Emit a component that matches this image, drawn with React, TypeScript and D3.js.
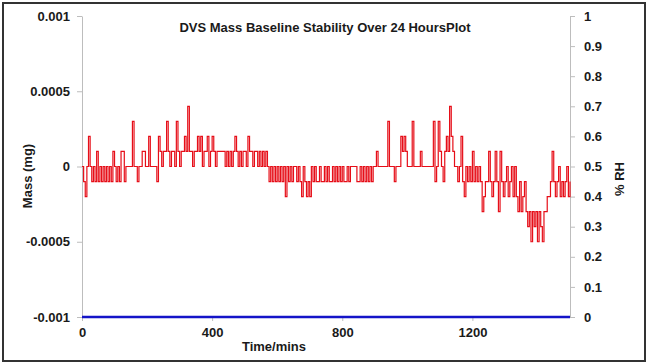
import React, { useRef, useEffect } from "react";
import * as d3 from "d3";

// Mass change, in units of 0.0001 mg, one reading every 5 minutes
const mass0to295 = [
  0, -1, -2, 0, 2, 0, -1, 0, -1, 1, -1, 0, -1, 0, -1, 0, -1, 0, -1, 1,
  0, -1, 0, -1, 1, 1, -1, 0, 0, 0, 0, 3, 0, 0, -1, 0, 0, 1, 1, 0,
  0, 2, 0, 0, 0, 0, -1, 2, 1, 0, 1, 1, 3, 1, 0, 1, 1, 0, 3, 1,
];
const mass300to595 = [
  0, 1, 1, 2, 1, 4, 1, 1, 0, 1, 1, 2, 1, 2, 0, 1, 1, 2, 0, 1,
  2, 1, 0, 1, 1, 1, 1, 1, 0, 1, 0, 1, 0, 1, 2, 1, 0, 1, 0, 1,
  1, 0, 2, 1, 1, 0, 1, 1, 0, 1, 0, 1, 0, 1, 0, -1, 0, -1, 0, -1,
];
const mass600to895 = [
  0, -1, 0, -1, 0, -2, 0, -1, 0, -1, 0, 0, -1, 0, -1, -2, 0, -1, -2, -1,
  -2, 0, -1, 0, -1, -1, 0, -1, -1, 0, -1, 0, -1, -1, 0, -1, 0, -1, 0, -1,
  0, -1, -1, 0, -1, 0, 0, 0, 0, -1, -1, 0, -1, 0, -1, 0, -1, 0, -1, 0,
];
const mass900to1195 = [
  0, 1, 0, 0, 0, 0, 0, 0, 3, 0, 0, 0, -1, 0, 0, 0, 2, 1, 2, 1,
  0, 0, 0, 3, 0, 0, 0, 0, 1, 0, 0, 0, 0, 0, 0, 0, 3, -1, 0, 3,
  1, 0, -1, 1, 2, 1, 4, 2, 1, 0, 0, -1, 0, 2, -1, -2, 0, -1, 0, -1,
];
const mass1200to1500 = [
  1, -1, 0, -1, 0, -1, -3, -2, -1, -1, 1, -1, -2, -1, 1, -1, -3, 1, -1, -2,
  -1, 0, -2, -1, 0, -2, 0, -2, -3, -1, -3, -2, -1, -3, -4, -3, -5, -3, -4, -3,
  -5, -3, -4, -5, -3, -3, -2, -2, -1, 1, -1, -2, -1, 0, -2, -1, -2, -1, 0, -2, -1,
];

// %RH stays at zero for the whole run
const rhTimes = [0, 1500];
const rhValues = [0, 0];

const massTicks = [0.001, 0.0005, 0, -0.0005, -0.001];
const massTickLabels = ["0.001", "0.0005", "0", "-0.0005", "-0.001"];
const rhTicks = [0, 0.1, 0.2, 0.3, 0.4, 0.5, 0.6, 0.7, 0.8, 0.9, 1];
const timeTicks = [0, 400, 800, 1200];

const FONT = "Arial, 'Liberation Sans', sans-serif";
const AXIS_GREY = "#bdbdbd";

function BaselineChart() {
  const chartRef = useRef(null);

  useEffect(() => {
    const svg = d3.select(chartRef.current);
    svg.selectAll("*").remove();

    const left = 82, right = 570, top = 16, bottom = 317;

    const x = d3.scaleLinear().domain([0, 1500]).range([left, right]);
    const y = d3.scaleLinear().domain([-0.001, 0.001]).range([bottom, top]);
    const yRH = d3.scaleLinear().domain([0, 1]).range([bottom, top]);

    // outer frame
    svg.append("rect")
      .attr("x", 3).attr("y", 3).attr("width", 642).attr("height", 358)
      .attr("fill", "white").attr("stroke", "#333").attr("stroke-width", 2);

    const styleAxis = (g) => {
      g.selectAll("path").attr("stroke", AXIS_GREY);
      g.selectAll("line").attr("stroke", AXIS_GREY);
      g.selectAll("text")
        .attr("fill", "#1a1a1a")
        .style("font-family", FONT)
        .style("font-size", "13px")
        .style("font-weight", "bold");
    };

    svg.append("g")
      .attr("transform", `translate(${left},0)`)
      .call(d3.axisLeft(y).tickValues(massTicks)
        .tickFormat((d, i) => massTickLabels[i])
        .tickSize(5).tickSizeOuter(0).tickPadding(7))
      .call(styleAxis);

    svg.append("g")
      .attr("transform", `translate(${right},0)`)
      .call(d3.axisRight(yRH).tickValues(rhTicks)
        .tickFormat(d3.format(""))
        .tickSize(5).tickSizeOuter(0).tickPadding(9))
      .call(styleAxis);

    svg.append("g")
      .attr("transform", `translate(0,${bottom})`)
      .call(d3.axisBottom(x).tickValues(timeTicks)
        .tickFormat(d3.format(""))
        .tickSize(4).tickSizeOuter(0).tickPadding(7))
      .call(styleAxis);

    // mass readings, 5-minute spacing
    const mass = [...mass0to295, ...mass300to595, ...mass600to895, ...mass900to1195, ...mass1200to1500];
    const times = d3.range(0, 1501, 5);
    const massData = times.map((t, i) => ({ t, v: mass[i] * 0.0001 }));

    const massLine = d3.line()
      .x((d) => x(d.t))
      .y((d) => y(d.v))
      .curve(d3.curveStepAfter);

    svg.append("path")
      .datum(massData)
      .attr("d", massLine)
      .attr("fill", "none")
      .attr("stroke", "#e60e18")
      .attr("stroke-width", 1.2);

    const rhLine = d3.line()
      .x((d, i) => x(rhTimes[i]))
      .y((d) => yRH(d));

    svg.append("path")
      .datum(rhValues)
      .attr("d", rhLine)
      .attr("fill", "none")
      .attr("stroke", "#1414c8")
      .attr("stroke-width", 2.5);

    const label = (txt, px, py, rot, size) =>
      svg.append("text")
        .attr("transform", `translate(${px},${py}) rotate(${rot})`)
        .attr("text-anchor", "middle")
        .style("font-family", FONT)
        .style("font-size", size)
        .style("font-weight", "bold")
        .attr("fill", "#1a1a1a")
        .text(txt);

    label("DVS Mass Baseline Stability Over 24 HoursPlot", 325, 32, 0, "13px");
    label("Time/mins", 274, 351, 0, "13px");
    label("Mass (mg)", 32, 176, -90, "13px");
    label("% RH", 624, 179, -90, "13px");
  }, []);

  return <svg ref={chartRef} width={650} height={363} style={{ display: "block" }}></svg>;
}

export default function App() {
  return (
    <div>
      <style>{`body{margin:0}`}</style>
      <BaselineChart />
    </div>
  );
}
